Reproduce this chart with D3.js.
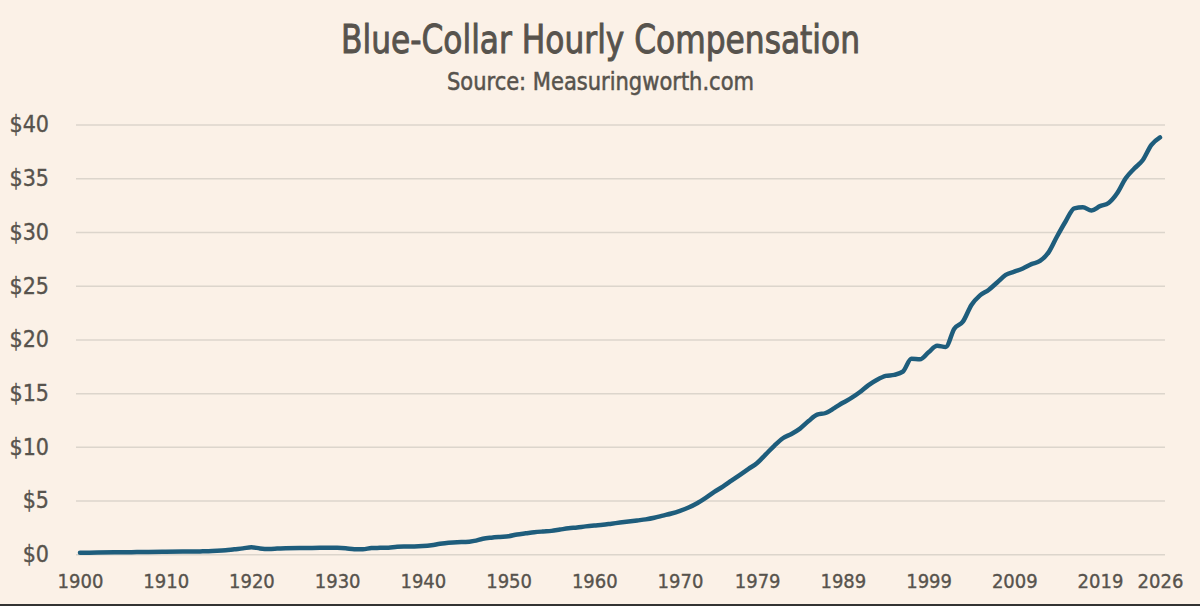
<!DOCTYPE html>
<html>
<head>
<meta charset="utf-8">
<script src="https://cdn.jsdelivr.net/npm/d3@7"></script>
<style>
  html, body { margin: 0; padding: 0; background: #fbf1e7; }
  svg { display: block; }
  .title { font-family: "DejaVu Sans Condensed", "Liberation Sans Narrow", sans-serif; fill: #57534d; stroke: #57534d; }
  .tick text { font-family: "DejaVu Sans Condensed", "Liberation Sans Narrow", sans-serif; fill: #57534d; stroke: #57534d; stroke-width: 0.35px; }
</style>
</head>
<body>
<svg width="1200" height="606"></svg>
<script>
// values (dollars per hour)
var years = [1900, 1902, 1904, 1906, 1908, 1910, 1912, 1914, 1915, 1916, 1917, 1918, 1919,
    1920, 1921, 1922, 1923, 1924, 1926, 1928, 1929, 1930, 1931, 1932, 1933, 1934, 1935,
    1936, 1937, 1938, 1939, 1940, 1941, 1942, 1943, 1944, 1945, 1946, 1947, 1948, 1949,
    1950, 1951, 1952, 1953, 1954, 1955, 1956, 1957, 1958, 1959, 1960, 1961, 1962, 1963,
    1964, 1965, 1966, 1967, 1968, 1969, 1970, 1971, 1972, 1973, 1974, 1975, 1976, 1977,
    1978, 1979, 1980, 1981, 1982, 1983, 1984, 1985, 1986, 1987, 1988, 1989, 1990, 1991,
    1992, 1993, 1994, 1995, 1996, 1997, 1998, 1999, 2000, 2001, 2002, 2003, 2004, 2005,
    2006, 2007, 2008, 2009, 2010, 2011, 2012, 2013, 2014, 2015, 2016, 2017, 2018, 2019,
    2020, 2021, 2022, 2023, 2024, 2025, 2026];
var wages = [0.15, 0.16, 0.18, 0.20, 0.22, 0.23, 0.25, 0.27, 0.28, 0.32, 0.38, 0.47, 0.55,
    0.66, 0.55, 0.50, 0.53, 0.57, 0.58, 0.60, 0.61, 0.60, 0.56, 0.48, 0.47, 0.58, 0.60,
    0.62, 0.70, 0.72, 0.73, 0.77, 0.85, 0.98, 1.08, 1.13, 1.14, 1.25, 1.45, 1.55, 1.62,
    1.68, 1.85, 1.95, 2.05, 2.12, 2.18, 2.30, 2.42, 2.50, 2.60, 2.68, 2.75, 2.85, 2.95,
    3.05, 3.15, 3.25, 3.40, 3.60, 3.80, 4.05, 4.35, 4.75, 5.25, 5.80, 6.30, 6.85, 7.40,
    7.95, 8.50, 9.30, 10.10, 10.80, 11.20, 11.70, 12.40, 13.00, 13.15, 13.60, 14.10, 14.55, 15.10,
    15.75, 16.25, 16.60, 16.70, 17.00, 18.20, 18.15, 18.80, 19.40, 19.30, 21.00, 21.65, 23.20, 24.10,
    24.60, 25.30, 26.00, 26.30, 26.60, 27.00, 27.30, 28.10, 29.60, 31.00, 32.20, 32.30, 32.00, 32.40,
    32.70, 33.60, 35.00, 35.90, 36.70, 38.10, 38.80];
var yTicks = [0, 5, 10, 15, 20, 25, 30, 35, 40];
var xTicks = [1900, 1910, 1920, 1930, 1940, 1950, 1960, 1970, 1979, 1989, 1999, 2009, 2019, 2026];

var data = years.map((yr, i) => ({ year: yr, value: wages[i] }));

var svg = d3.select("svg");
var x = d3.scaleLinear().domain([1900, 2026]).range([80, 1160]);
var y = d3.scaleLinear().domain([0, 40]).range([554.3, 124.5]);

svg.append("rect").attr("width", 1200).attr("height", 606).attr("fill", "#fbf1e7");

svg.append("text").attr("class", "title")
    .attr("x", 341).attr("y", 53)
    .attr("font-size", 39)
    .attr("stroke-width", 0.9)
    .attr("textLength", 519)
    .attr("lengthAdjust", "spacingAndGlyphs")
    .text("Blue-Collar Hourly Compensation");
svg.append("text").attr("class", "title")
    .attr("x", 447).attr("y", 90)
    .attr("font-size", 24)
    .attr("stroke-width", 0.5)
    .attr("textLength", 307)
    .attr("lengthAdjust", "spacingAndGlyphs")
    .text("Source: Measuringworth.com");

// gridlines + y labels
var yAxis = svg.append("g")
    .attr("transform", "translate(76,0)")
    .call(d3.axisLeft(y).tickValues(yTicks)
        .tickSize(-1089).tickPadding(27)
        .tickFormat(d => "$" + d));
yAxis.select(".domain").remove();
yAxis.selectAll(".tick line").attr("stroke", "#dcd5cc").attr("stroke-width", 1.5);
yAxis.selectAll(".tick text").attr("font-size", 23);

var xAxis = svg.append("g")
    .attr("transform", "translate(0,566)")
    .call(d3.axisBottom(x).tickValues(xTicks).tickSize(0).tickPadding(8).tickFormat(d3.format("d")));
xAxis.select(".domain").remove();
xAxis.selectAll(".tick text").attr("font-size", 20);

var line = d3.line()
    .x(d => x(d.year))
    .y(d => y(d.value))
    .curve(d3.curveMonotoneX);

svg.append("path")
    .datum(data)
    .attr("fill", "none")
    .attr("stroke", "#1e5d7c")
    .attr("stroke-width", 4.5)
    .attr("stroke-linecap", "round")
    .attr("stroke-linejoin", "round")
    .attr("d", line);

// thin dark edge at the bottom of the picture
svg.append("line")
    .attr("x1", 0).attr("x2", 1200)
    .attr("y1", 605).attr("y2", 605)
    .attr("stroke", "#333").attr("stroke-width", 2);
</script>
</body>
</html>
